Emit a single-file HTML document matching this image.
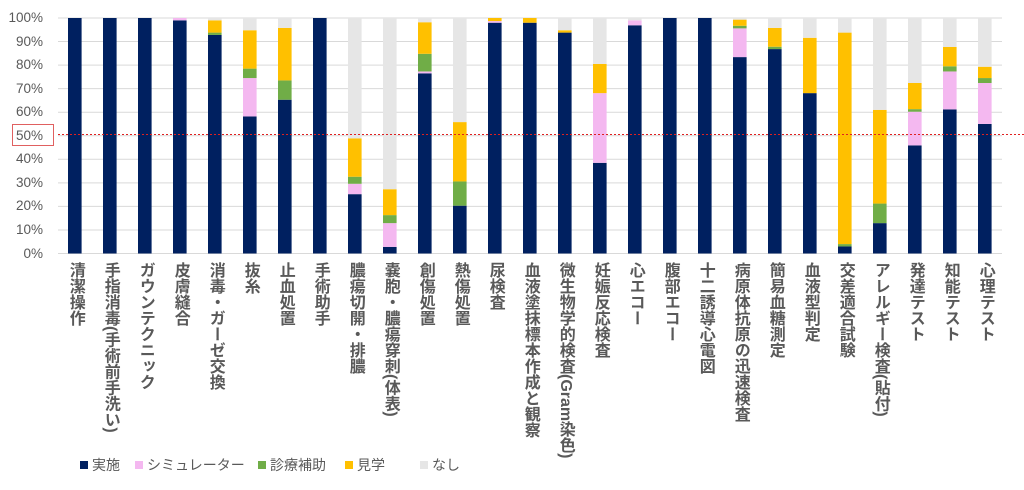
<!DOCTYPE html>
<html><head><meta charset="utf-8"><style>
body{margin:0;background:#fff;width:1024px;height:490px;overflow:hidden;position:relative;font-family:"Liberation Sans","Noto Sans CJK JP",sans-serif;}
.lab{position:absolute;top:262px;writing-mode:vertical-rl;font-size:16px;font-weight:bold;color:#595959;line-height:16px;white-space:nowrap;}
.yl{position:absolute;right:981px;font-size:13.5px;color:#595959;line-height:14px;}
.leg{position:absolute;top:455px;font-size:14px;color:#595959;white-space:nowrap;}
.leg i{display:inline-block;width:8px;height:8px;margin-right:4px;vertical-align:1px;}
</style></head><body>
<svg width="1024" height="490" style="position:absolute;left:0;top:0" id="s"></svg>
<div id="labs"></div>
<div style="position:absolute;left:12px;top:124px;width:40px;height:20px;border:1px solid #e06060;"></div>
<div class="leg" style="left:80px"><i style="background:#002060"></i>実施</div>
<div class="leg" style="left:135px"><i style="background:#f4b8f0"></i>シミュレーター</div>
<div class="leg" style="left:258px"><i style="background:#70ad47"></i>診療補助</div>
<div class="leg" style="left:345px"><i style="background:#ffc000"></i>見学</div>
<div class="leg" style="left:420px"><i style="background:#e6e6e6"></i>なし</div>
<script>
var names=["清潔操作","手指消毒(手術前手洗い)","ガウンテクニック","皮膚縫合","消毒・ガーゼ交換","抜糸","止血処置","手術助手","膿瘍切開・排膿","嚢胞・膿瘍穿刺(体表)","創傷処置","熱傷処置","尿検査","血液塗抹標本作成と観察","微生物学的検査(Gram染色)","妊娠反応検査","心エコー","腹部エコー","十二誘導心電図","病原体抗原の迅速検査","簡易血糖測定","血液型判定","交差適合試験","アレルギー検査(貼付)","発達テスト","知能テスト","心理テスト"];
// cumulative tops: navy, pink, green, yellow (gray to 100)
var d=[[100,100,100,100],[100,100,100,100],[100,100,100,100],[99,100,100,100],[92.8,92.8,93.8,99],[58.2,74.5,78.5,94.8],[65.3,65.3,73.5,95.8],[100,100,100,100],[25.2,29.6,32.6,48.9],[2.8,12.9,16.3,27.3],[76.5,77.3,84.8,98.2],[20.3,20.3,30.6,55.8],[98,98.7,98.7,100],[98,98,98,100],[93.8,93.8,93.8,94.8],[38.5,68.1,68.1,80.5],[96.9,99,99,99],[100,100,100,100],[100,100,100,100],[83.4,95.6,96.7,99.3],[86.8,86.8,87.8,95.8],[68.1,68.1,68.1,91.6],[3,3,4,93.8],[12.9,12.9,21.2,61],[45.9,60.2,61.3,72.4],[61.2,77.3,79.5,87.7],[55,72.4,74.5,79.3]];
var cols=["#002060","#f4b8f0","#70ad47","#ffc000","#e6e6e6"];
var Y=function(p){return 253.5-p*2.355;};
var s='';
for(var g=0;g<=10;g++){var y=Y(g*10);s+='<line x1="58" x2="1002" y1="'+y+'" y2="'+y+'" stroke="#d9d9d9" stroke-width="1"/>';}
var lh='';
for(var i=0;i<27;i++){var cx=74.8+i*35,x=cx-6.8,b=0,a=d[i].concat([100]);
 for(var k=0;k<5;k++){var t=a[k];if(t>b){s+='<rect x="'+x+'" y="'+Y(t)+'" width="13.6" height="'+(Y(b)-Y(t))+'" fill="'+cols[k]+'"/>';}b=Math.max(b,t);}
 lh+='<div class="lab" style="left:'+(cx-8)+'px">'+names[i]+'</div>';}
s+='<line x1="58" x2="1024" y1="134.5" y2="134.5" stroke="#e02020" stroke-width="1" stroke-dasharray="2,2"/>';
document.getElementById('s').innerHTML=s;
for(var g=0;g<=10;g++){lh+='<div class="yl" style="top:'+(Y(g*10)-7)+'px">'+(g*10)+'%</div>';}
document.getElementById('labs').innerHTML=lh;
</script>
</body></html>
